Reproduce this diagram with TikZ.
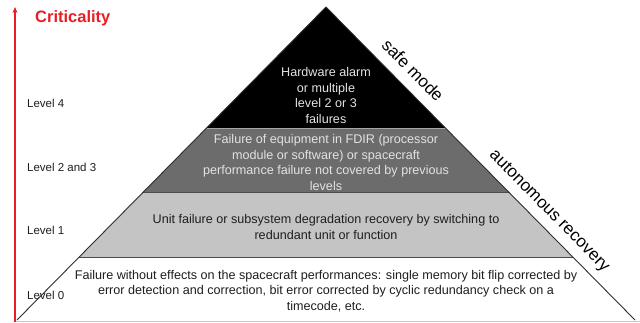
\documentclass[tikz,border=0pt]{standalone}
\usepackage{fontspec}
\setmainfont{Liberation Sans}
\usetikzlibrary{arrows.meta}
\definecolor{critred}{RGB}{232,30,36}
\definecolor{banddark}{RGB}{108,108,108}
\definecolor{bandlight}{RGB}{196,196,196}
\definecolor{edgegray}{RGB}{45,45,45}
\definecolor{txtdark}{RGB}{30,30,30}
\definecolor{txtpale}{RGB}{226,226,226}
\tikzset{
  bandtext/.style={align=center, inner sep=0pt, font=\fontsize{12.6}{15.5}\selectfont},
  leveltext/.style={anchor=west, inner sep=0pt, text=txtdark, font=\fontsize{11.5}{13}\selectfont},
  sidetext/.style={inner sep=0pt, text=black, font=\fontsize{17}{20}\selectfont, rotate=-45.4},
  edgeline/.style={draw=edgegray, line width=0.9pt},
  sepdark/.style={draw=edgegray!85, line width=1pt},
  seplight/.style={draw=gray!70, line width=0.8pt},
  critarrow/.style={draw=critred, line width=1.4pt, -{Stealth[length=6pt,width=5pt]}}
}
\begin{document}
\begin{tikzpicture}[x=1pt,y=-1pt]
\useasboundingbox (0,0) rectangle (640,322);

% pyramid corners
\coordinate (apex) at (326,7);
\coordinate (bl) at (17,320);
\coordinate (br) at (635,320);
\coordinate (l1) at (206.5,128);
\coordinate (r1) at (445.5,128);
\coordinate (l2) at (143.4,192);
\coordinate (r2) at (508.6,192);
\coordinate (l3) at (79.2,257);
\coordinate (r3) at (572.8,257);

% bands
\fill[black] (apex) -- (r1) -- (l1) -- cycle;
\fill[banddark] (l1) -- (r1) -- (r2) -- (l2) -- cycle;
\fill[bandlight] (l2) -- (r2) -- (r3) -- (l3) -- cycle;
\draw[seplight] (l1) -- (r1);
\draw[sepdark] (l2) -- (r2);
\draw[sepdark] (l3) -- (r3);
\draw[edgeline] (bl) -- (apex) -- (br);

% ground line
\coordinate (gl) at (15,321);
\coordinate (gr) at (640,321);
\draw[draw=gray!45, line width=0.8pt] (gl) -- (gr);

% criticality axis
\coordinate (axisfoot) at (15,322);
\coordinate (axistop) at (15,7);
\draw[critarrow] (axisfoot) -- (axistop);
\node[anchor=west, inner sep=0pt, text=critred, font=\fontsize{16.5}{18}\selectfont\bfseries] (crit) at (35,18) {Criticality};

% level labels
\node[leveltext] (lv4) at (27,103) {Level 4};
\node[leveltext] (lv23) at (27,167) {Level 2 and 3};
\node[leveltext] (lv1) at (27,230) {Level 1};
\node[leveltext] (lv0) at (27,295) {Level 0};

% band descriptions
\node[bandtext, text=txtpale] (t4) at (326,95.5) {Hardware alarm\\or multiple\\level 2 or 3\\failures};
\node[bandtext, text=txtpale] (t23) at (326,162.5) {Failure of equipment in FDIR (processor\\module or software) or spacecraft\\performance failure not covered by previous\\levels};
\node[bandtext, text=txtdark] (t1) at (326,227) {Unit failure or subsystem degradation recovery by switching to\\redundant unit or function};
\node[bandtext, text=txtdark] (t0) at (326,291) {Failure without effects on the spacecraft performances: single memory bit flip corrected by\\error detection and correction, bit error corrected by cyclic redundancy check on a\\timecode, etc.};

% recovery modes along the slope
\node[sidetext] (safe) at (413,70) {safe mode};
\node[sidetext] (auto) at (549,211.5) {autonomous recovery};
\end{tikzpicture}
\end{document}
